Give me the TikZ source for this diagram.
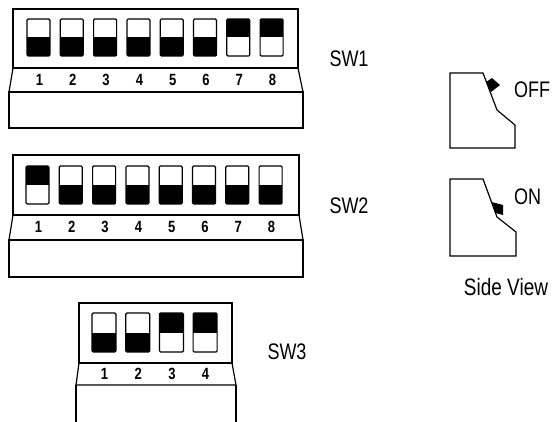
\documentclass[tikz,border=0pt]{standalone}
\usepackage{fontspec}
\setmainfont{Liberation Sans}
\usepackage{tikz}
\usetikzlibrary{positioning, calc}

\tikzset{
  swbody/.style={draw,line width=1.2pt,rounded corners=1.2pt},
  swnum/.style={font=\fontsize{13}{13}\selectfont\bfseries,inner sep=0pt},
  swlabel/.style={font=\fontsize{18}{18}\selectfont,inner sep=0pt},
  casing/.style={line width=1.2pt}
}

% tall lettering as in the print
\newcommand{\tallfont}[1]{\scalebox{1}[1.25]{#1}}

% one slider: left x, top y, bottom y, black part on top (1) or bottom (0), width
\newcommand{\dipslider}[5]{%
  \pgfmathsetmacro{\xl}{#1}
  \pgfmathsetmacro{\xr}{#1+#5}
  \pgfmathsetmacro{\ymid}{(#2+#3)/2}
  \ifnum#4=1
    \fill[black] (\xl,#2) rectangle (\xr,\ymid);
  \else
    \fill[black] (\xl,\ymid) rectangle (\xr,#3);
  \fi
  \draw[swbody] (\xl,#2) rectangle (\xr,#3);
}

\begin{document}
\begin{tikzpicture}[x=1pt,y=-1pt]
    \useasboundingbox (0,0) rectangle (554,422);

    % SW1
    \draw[casing] (13,9) rectangle (298,68);
    \draw[casing] (13,68) -- (9,92) -- (303,92) -- (298,68);
    \draw[casing] (9,92) rectangle (303,128);
    \foreach \i/\up in {1/0,2/0,3/0,4/0,5/0,6/0,7/1,8/1} {
      \dipslider{27+(\i-1)*33.3}{19}{56}{\up}{23}
      \node[swnum] (a\i) at ({39.5+(\i-1)*33.3},80) {\tallfont{\i}};
    }
    \node[swlabel] (sw1) at (349,59) {\tallfont{SW1}};

    % SW2
    \draw[casing] (13,155) rectangle (299,215);
    \draw[casing] (13,215) -- (9,240) -- (303,240) -- (299,215);
    \draw[casing] (9,240) rectangle (303,277);
    \foreach \i/\up in {1/1,2/0,3/0,4/0,5/0,6/0,7/0,8/0} {
      \dipslider{26+(\i-1)*33.3}{166}{204}{\up}{23}
      \node[swnum] (b\i) at ({38.5+(\i-1)*33.3},227) {\tallfont{\i}};
    }
    \node[swlabel] (sw2) at (349,206) {\tallfont{SW2}};

    % SW3
    \draw[casing] (79,303) rectangle (232,363);
    \draw[casing] (79,363) -- (76,385) -- (236,385) -- (232,363);
    \draw[casing] (76,385) -- (76,422);
    \draw[casing] (236,385) -- (236,422);
    \foreach \i/\up in {1/0,2/0,3/1,4/1} {
      \dipslider{92+(\i-1)*33.7}{313}{352}{\up}{24}
      \node[swnum] (c\i) at ({104.5+(\i-1)*33.7},374) {\tallfont{\i}};
    }
    \node[swlabel] (sw3) at (287,352) {\tallfont{SW3}};

    % Side view, OFF
    \draw[casing] (450,73) -- (483,73) -- (497,110) -- (515,125) -- (515,148) -- (450,148) -- cycle;
    \fill[black] (486,82) -- (492,78) -- (500,85) -- (491,92) -- cycle;
    \node[swlabel,anchor=west] (off) at (514,90) {\tallfont{OFF}};

    % Side view, ON
    \draw[casing] (450,179) -- (483,179) -- (497,217) -- (516,232) -- (516,256) -- (450,256) -- cycle;
    \fill[black] (491.5,202) -- (503,205) -- (503,215) -- (495.6,213) -- cycle;
    \node[swlabel,anchor=west] (on) at (514,197) {\tallfont{ON}};

    \node[swlabel,font=\fontsize{19}{19}\selectfont] (side) at (506,287) {\tallfont{Side View}};
\end{tikzpicture}
\end{document}
